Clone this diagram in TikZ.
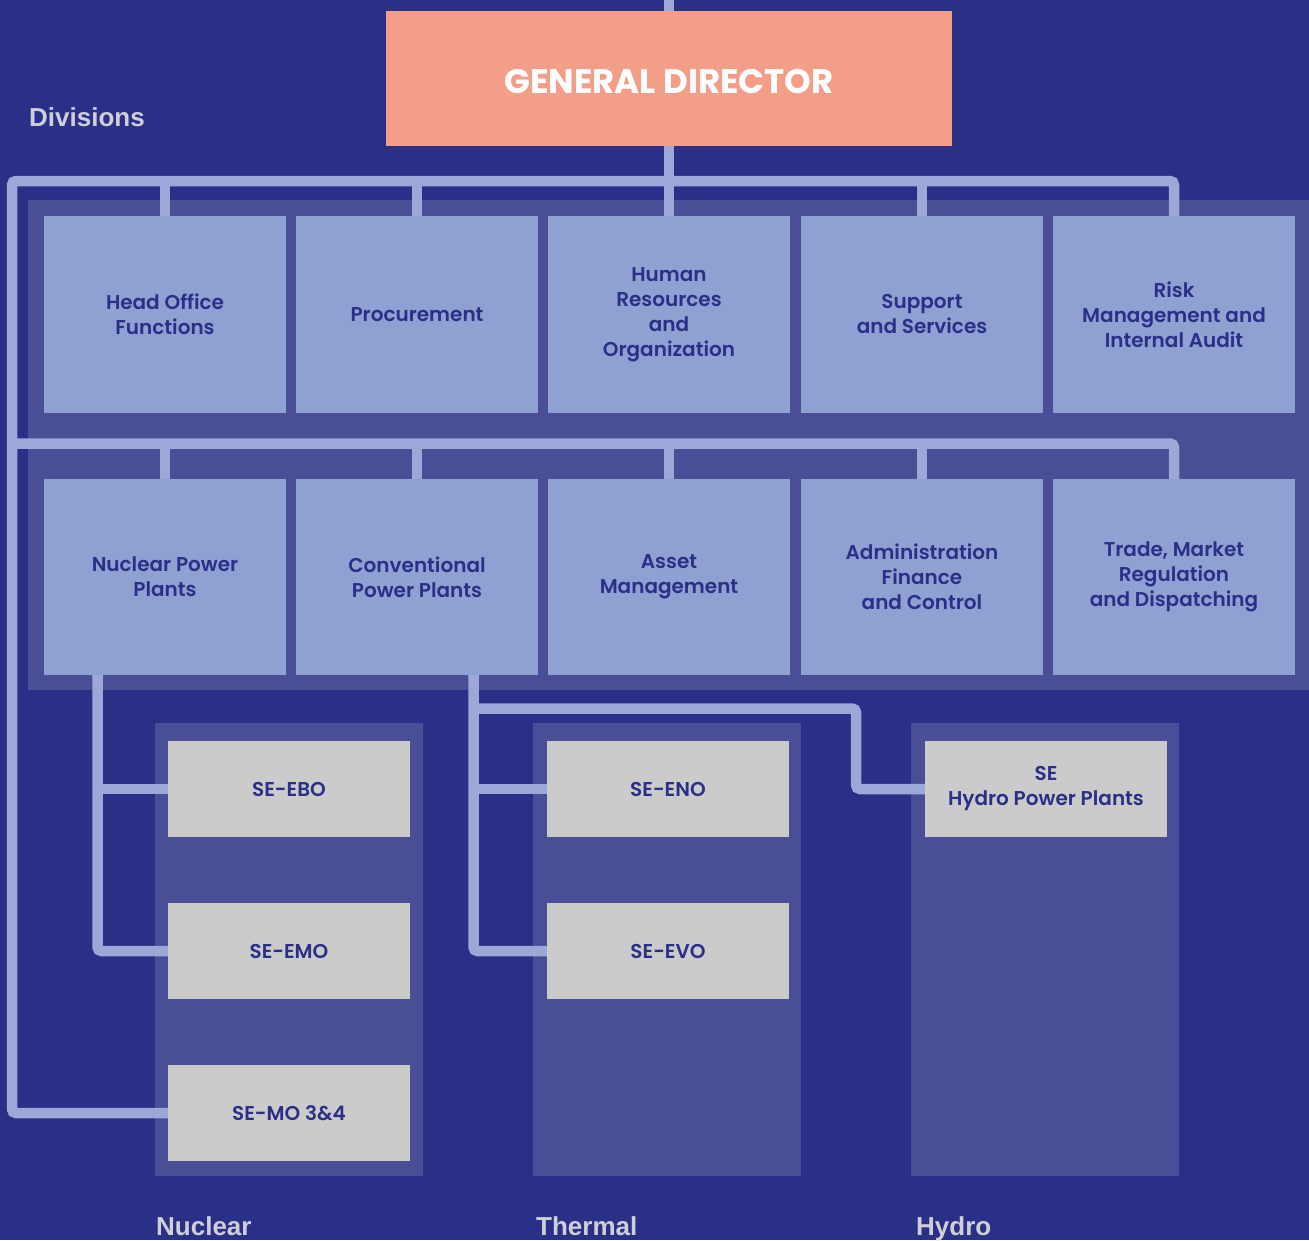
\documentclass[tikz,border=0pt]{standalone}
\usepackage{fontspec}
\setmainfont{Liberation Sans}
\IfFontExistsTF{Poppins SemiBold}{\newfontfamily\boxfont{Poppins SemiBold}}{\IfFontExistsTF{Poppins Medium}{\newfontfamily\boxfont{Poppins Medium}}{\newfontfamily\boxfont{Poppins}}}
\newfontfamily\gdfont{Poppins}
\definecolor{bgc}{HTML}{2A3087}
\definecolor{panelc}{HTML}{4A4E96}
\definecolor{boxc}{HTML}{8FA1D3}
\definecolor{linec}{HTML}{9BA8D8}
\definecolor{grayc}{HTML}{CBCBCB}
\definecolor{gdc}{HTML}{F39E88}
\definecolor{darkc}{HTML}{2A3087}
\definecolor{labc}{HTML}{CFCFD8}
\pgfdeclarelayer{bg}
\pgfsetlayers{bg,main}
\begin{document}
\begin{tikzpicture}[x=1pt,y=-1pt,
  div/.style={fill=boxc, minimum width=242pt, minimum height=197pt, inner sep=0pt, align=center, text=darkc, font=\boxfont\fontsize{20}{25}\selectfont},
  sub/.style={fill=grayc, minimum width=242pt, minimum height=96pt, inner sep=0pt, align=center, text=darkc, font=\boxfont\fontsize{20}{25}\selectfont},
  conn/.style={draw=linec, line width=10.5pt, rounded corners=4pt},
  lab/.style={anchor=base west, inner sep=0pt, text=labc, font=\bfseries\fontsize{26}{30}\selectfont}]
\begin{pgfonlayer}{bg}
\fill[bgc] (0,0) rectangle (1309,1240);
% panels
\fill[panelc] (28,200) rectangle (1309,690);
\fill[panelc] (155,723) rectangle (423,1176);
\fill[panelc] (533,723) rectangle (801,1176);
\fill[panelc] (911,723) rectangle (1179,1176);
\end{pgfonlayer}
\useasboundingbox (0,0) rectangle (1309,1240);
% general director
\node[fill=gdc, minimum width=566pt, minimum height=135pt, inner sep=0pt] (gd) at (669,78.5) {};
\node[inner sep=0pt, text=white, font=\gdfont\bfseries\fontsize{34}{40}\selectfont] (gdt) at ([yshift=-3.5pt]gd.center) {GENERAL DIRECTOR};
% divisions row 1
\node[div] (hof) at (165,314.5) {Head Office\\Functions};
\node[div] (proc) at (417,314.5) {Procurement};
\node[div] (hr) at (669,314.5) {Human\\Resources\\and\\Organization};
\node[div] (sup) at (922,314.5) {Support\\and Services};
\node[div] (risk) at (1174,314.5) {Risk\\Management and\\Internal Audit};
% divisions row 2
\node[div, minimum height=196pt] (npp) at (165,577) {Nuclear Power\\Plants};
\node[div, minimum height=196pt] (cpp) at (417,577) {Conventional\\Power Plants};
\node[div, minimum height=196pt] (asset) at (669,577) {Asset\\Management};
\node[div, minimum height=196pt] (adm) at (922,577) {Administration\\Finance\\and Control};
\node[div, minimum height=196pt] (trade) at (1174,577) {Trade, Market\\Regulation\\and Dispatching};
% subsidiaries
\node[sub] (ebo) at (289,789) {SE-EBO};
\node[sub] (emo) at (289,951) {SE-EMO};
\node[sub] (semo) at (289,1113) {SE-MO 3\&4};
\node[sub] (eno) at (668,789) {SE-ENO};
\node[sub] (evo) at (668,951) {SE-EVO};
\node[sub] (hydro) at (1046,789) {SE\\Hydro Power Plants};
% labels
\node[lab] (ldiv) at (29,126) {Divisions};
\node[lab] (lnuc) at (156,1235) {Nuclear};
\node[lab] (lthe) at (536,1235) {Thermal};
\node[lab] (lhyd) at (916,1235) {Hydro};
% coordinates
\coordinate (topend) at (669,-6);
\coordinate (bus1) at (12,181);
\coordinate (bus2) at (12,443.5);
\coordinate (nx) at (97.5,675);
\coordinate (tx) at (473.5,675);
\coordinate (ty) at (473.5,708.5);
\coordinate (hx) at (856,708.5);
% connectors (behind the boxes)
\begin{pgfonlayer}{bg}
\draw[conn] (topend) -- (gd.north);
\draw[conn] (gd.south) -- (hr.north);
\draw[conn] (semo.west) -| (bus1) -| (risk.north);
\draw[conn] (bus1 -| hof.north) -- (hof.north);
\draw[conn] (bus1 -| proc.north) -- (proc.north);
\draw[conn] (bus1 -| sup.north) -- (sup.north);
\draw[conn] (bus2) -| (trade.north);
\draw[conn] (bus2 -| npp.north) -- (npp.north);
\draw[conn] (bus2 -| cpp.north) -- (cpp.north);
\draw[conn] (bus2 -| asset.north) -- (asset.north);
\draw[conn] (bus2 -| adm.north) -- (adm.north);
\draw[conn] (nx) |- (emo.west);
\draw[conn] (nx |- ebo.west) -- (ebo.west);
\draw[conn] (tx) |- (evo.west);
\draw[conn] (tx |- eno.west) -- (eno.west);
\draw[conn] (ty) -- (hx) |- (hydro.west);
\end{pgfonlayer}
\end{tikzpicture}
\end{document}
